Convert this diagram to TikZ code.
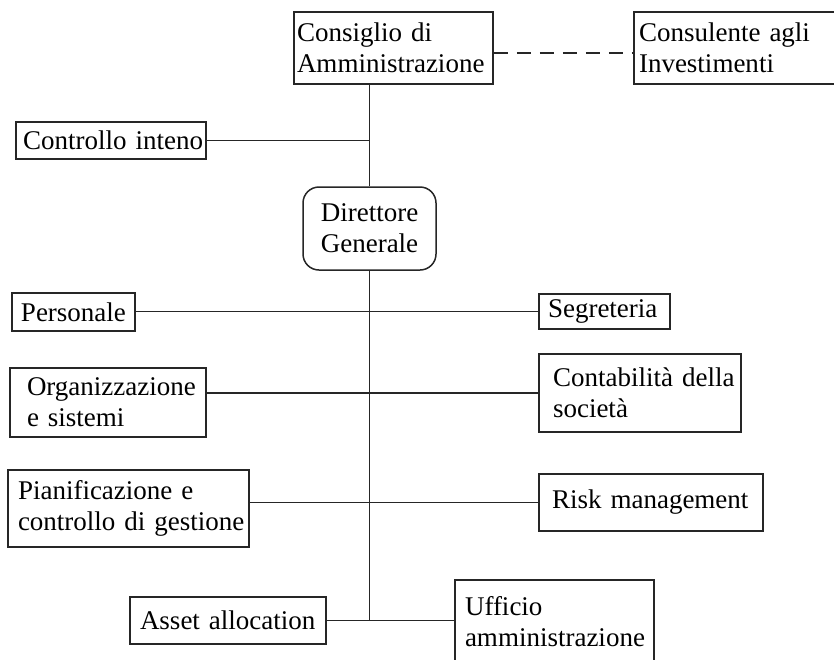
\documentclass[tikz,border=0pt]{standalone}
\usepackage{fontspec}
\setmainfont{Liberation Serif}
\begin{document}
\begin{tikzpicture}[x=1pt,y=-1pt,
  ln/.style={line width=1.5pt, draw=black!85},
  box/.style={draw=black!85, line width=1.5pt, inner xsep=0pt, inner ysep=0pt,
    align=left, font=\fontsize{27}{31}\selectfont, fill=white},
  rbox/.style={draw=black!85, line width=1.5pt, inner sep=0pt, rounded corners=16pt,
    align=center, font=\fontsize{27}{31}\selectfont, fill=white}]
\useasboundingbox[fill=white] (0,0) rectangle (834,659);

\node[box, text width=199pt, minimum height=72pt] (cons) at (393.5,48)
  {\hspace*{3pt}Consiglio di\\\hspace*{3pt}Amministrazione};
\node[box, text width=216pt, minimum height=72pt] (consu) at (742,48)
  {\hspace*{5pt}Consulente agli\\\hspace*{5pt}Investimenti};
\node[box, text width=190pt, minimum height=37pt] (ctrl) at (111,140.5)
  {\hspace*{7pt}Controllo inteno};
\node[rbox, minimum width=133pt, minimum height=83pt] (dir) at (369.5,228.5)
  {Direttore\\Generale};
\node[box, text width=123pt, minimum height=38pt] (pers) at (73.5,312)
  {\hspace*{9pt}Personale};
\node[box, text width=131pt, minimum height=35pt] (segr) at (604.5,311.5)
  {\hspace*{9pt}Segreteria};
\node[box, text width=196pt, minimum height=69pt] (org) at (108,402.5)
  {\hspace*{17pt}Organizzazione\\\hspace*{17pt}e sistemi};
\node[box, text width=202pt, minimum height=78pt] (cont) at (640,393)
  {\hspace*{14pt}Contabilità della\\\hspace*{14pt}società};
\node[box, text width=241pt, minimum height=77pt] (pian) at (128.5,508.5)
  {\hspace*{10pt}Pianificazione e\\\hspace*{10pt}controllo di gestione};
\node[box, text width=224pt, minimum height=57pt] (risk) at (651,502.5)
  {\hspace*{13pt}Risk management};
\node[box, text width=196pt, minimum height=47pt] (asset) at (228,620.5)
  {\hspace*{10pt}Asset allocation};
\node[box, text width=199pt, minimum height=84pt] (uff) at (554.5,622)
  {\hspace*{10pt}Ufficio\\\hspace*{10pt}amministrazione};

\coordinate (jctrl) at (ctrl.east -| dir.north);
\coordinate (jbot) at (asset.east -| dir.south);

\draw[ln, dash pattern=on 14pt off 9pt] ([yshift=-5pt]cons.east) -- ([yshift=-5pt]consu.west);
\draw[ln] (cons.south -| dir.north) -- (dir.north);
\draw[ln] (ctrl.east) -- (jctrl);
\draw[ln] (dir.south) -- (jbot);
\draw[ln] (pers.east |- segr.west) -- (segr.west);
\draw[ln] (org.east |- cont.west) -- (cont.west);
\draw[ln] (pian.east |- risk.west) -- (risk.west);
\draw[ln] (asset.east) -- (uff.west |- asset.east);
\end{tikzpicture}
\end{document}
